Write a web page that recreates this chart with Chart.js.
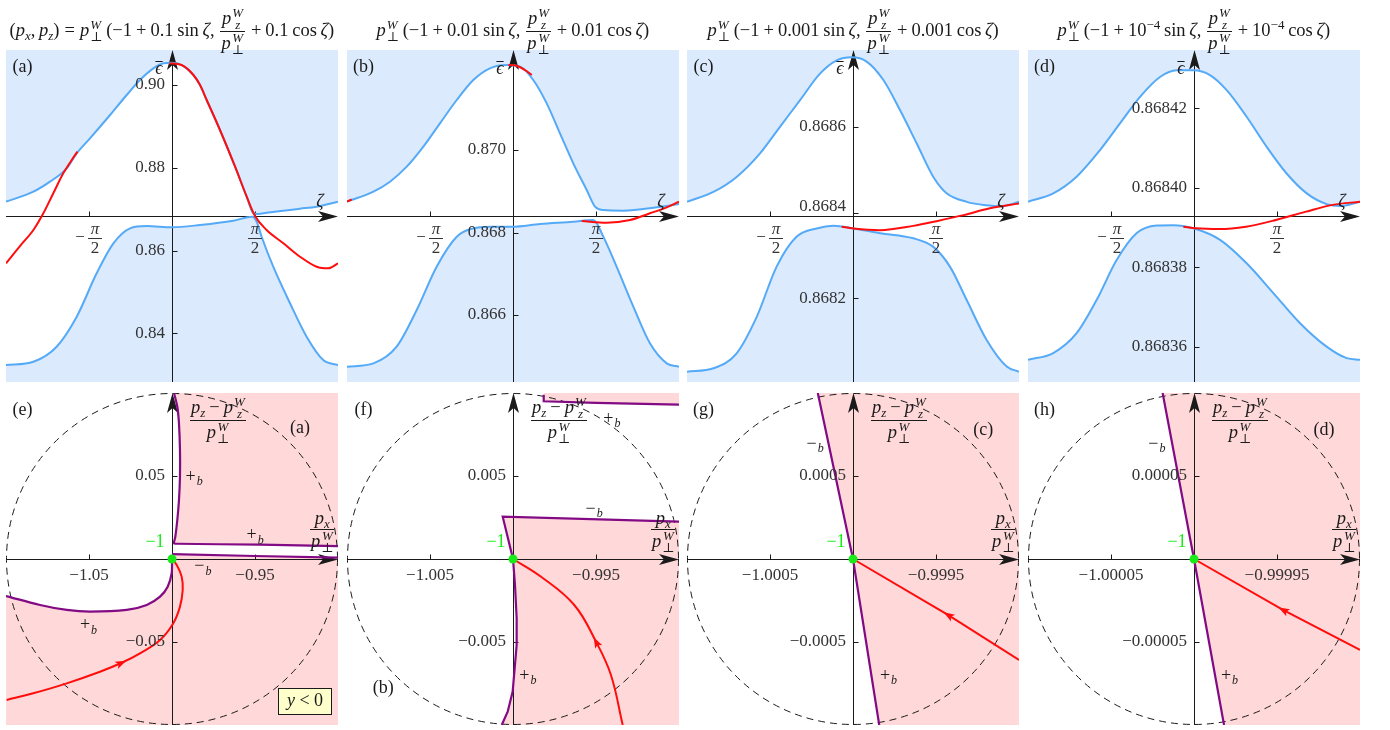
<!DOCTYPE html>
<html>
<head>
<meta charset="utf-8">
<title>Energy bands and momentum trajectories</title>
<script src="https://cdn.jsdelivr.net/npm/chart.js@4.4.2/dist/chart.umd.min.js"></script>
<style>
    body {
        margin: 0;
        width: 1390px;
        height: 730px;
        overflow: hidden;
        position: relative;
        background: #fff;
        color: #1a1a1a;
        font-family: "Liberation Serif", "DejaVu Serif", serif;
    }

    canvas {
        position: absolute;
    }

    .title {
        position: absolute;
        top: 0;
        white-space: nowrap;
        font-size: 18.5px;
    }

    .ss {
        display: inline-flex;
        flex-direction: column;
        font-size: 13px;
        line-height: 12px;
        vertical-align: 6.5px;
        margin-left: 1px;
    }

    sub {
        font-size: 13px;
        vertical-align: -4px;
        line-height: 0;
    }

    sup {
        font-size: 13px;
        vertical-align: 7px;
        line-height: 0;
    }

    .rel {
        margin: 0 5px;
    }

    .bin {
        margin: 0 4px;
    }

    .frac {
        display: inline-block;
        vertical-align: middle;
        text-align: center;
        margin: 0 2px;
        white-space: nowrap;
    }

    .frac>span {
        display: block;
        line-height: 21px;
        padding: 0 1px;
    }

    .frac>span:first-child {
        border-bottom: 1px solid #1a1a1a;
    }

    .abs {
        position: absolute;
        font-size: 18.5px;
    }
</style>
</head>

<body>
    <canvas id="ta" width="332" height="332" style="left:6px;top:50px"></canvas>
    <canvas id="tb" width="332" height="332" style="left:347px;top:50px"></canvas>
    <canvas id="tc" width="332" height="332" style="left:687px;top:50px"></canvas>
    <canvas id="td" width="332" height="332" style="left:1028px;top:50px"></canvas>
    <canvas id="be" width="332" height="332" style="left:6px;top:393px"></canvas>
    <canvas id="bf" width="332" height="332" style="left:347px;top:393px"></canvas>
    <canvas id="bg" width="332" height="332" style="left:687px;top:393px"></canvas>
    <canvas id="bh" width="332" height="332" style="left:1028px;top:393px"></canvas>

    <script>
        // ---------- top row: band energy eps vs zeta (zeta in units of pi) ----------
        const zetaTicks = [-0.5, 0.5];

        const zetaUpperA = [-1, -0.835, -0.735, -0.634, -0.574, -0.494, -0.373, -0.273, -0.193, -0.112, -0.052, 0, 0.058, 0.129, 0.169, 0.209, 0.289, 0.38, 0.45, 0.49, 0.52, 0.57, 0.671, 0.771, 0.871, 1];
        const epsUpperA = [0.87181, 0.87422, 0.87664, 0.87986, 0.88349, 0.88711, 0.89275, 0.89758, 0.90121, 0.90403, 0.90524, 0.90540, 0.90483, 0.90242, 0.90000, 0.89637, 0.88913, 0.88026, 0.87301, 0.86900, 0.86885, 0.86914, 0.86962, 0.87011, 0.87059, 0.87181];
        const zetaLowerA = [-1, -0.835, -0.695, -0.574, -0.454, -0.353, -0.253, -0.153, 0, 0.169, 0.369, 0.484, 0.51, 0.54, 0.61, 0.711, 0.811, 0.911, 1];
        const epsLowerA = [0.83233, 0.83314, 0.83676, 0.84401, 0.85450, 0.86175, 0.86537, 0.86592, 0.86561, 0.86617, 0.86721, 0.86818, 0.86700, 0.86334, 0.85609, 0.84725, 0.83918, 0.83354, 0.83233];
        const zetaRedA1 = [-1, -0.916, -0.835, -0.775, -0.715, -0.655, -0.604, -0.57];
        const epsRedA1 = [0.85691, 0.86109, 0.86496, 0.86899, 0.87383, 0.87866, 0.88188, 0.88389];
        const zetaRedA2 = [-0.016, 0.058, 0.129, 0.169, 0.209, 0.289, 0.38, 0.45, 0.5, 0.57, 0.671, 0.771, 0.871, 0.942, 1];
        const epsRedA2 = [0.90524, 0.90483, 0.90242, 0.90000, 0.89637, 0.88913, 0.88026, 0.87301, 0.86834, 0.86496, 0.86175, 0.85851, 0.85609, 0.85570, 0.85690];
        const epsTicksA = [0.84, 0.86, 0.88, 0.90];

        const zetaUpperB = [-1, -0.841, -0.741, -0.640, -0.540, -0.440, -0.339, -0.239, -0.139, -0.038, 0.042, 0.122, 0.203, 0.283, 0.363, 0.444, 0.494, 0.544, 0.664, 0.866, 1];
        const epsUpperB = [0.868747, 0.868990, 0.869232, 0.869596, 0.870081, 0.870646, 0.871212, 0.871697, 0.871980, 0.872061, 0.872020, 0.871697, 0.871131, 0.870404, 0.869677, 0.869030, 0.868626, 0.868545, 0.868529, 0.868610, 0.868691];
        const zetaLowerB = [-1, -0.841, -0.701, -0.580, -0.460, -0.339, -0.239, -0.139, -0.008, 0.163, 0.363, 0.484, 0.544, 0.624, 0.725, 0.825, 0.926, 1];
        const epsLowerB = [0.864747, 0.864828, 0.865232, 0.866121, 0.867172, 0.867899, 0.868101, 0.868141, 0.868141, 0.868206, 0.868262, 0.868303, 0.867899, 0.867172, 0.866202, 0.865313, 0.864828, 0.864747];
        const zetaRedB1 = [-1, -0.972];
        const epsRedB1 = [0.868747, 0.868800];
        const zetaRedB2 = [-0.028, 0.022, 0.072, 0.113];
        const epsRedB2 = [0.872061, 0.872044, 0.871939, 0.871818];
        const zetaRedB3 = [0.414, 0.564, 0.705, 0.825, 0.926, 1];
        const epsRedB3 = [0.868279, 0.868238, 0.868303, 0.868465, 0.868610, 0.868747];
        const epsTicksB = [0.866, 0.868, 0.870];

        const zetaUpperC = [-1, -0.841, -0.701, -0.560, -0.440, -0.319, -0.199, -0.098, -0.008, 0.082, 0.183, 0.283, 0.384, 0.484, 0.564, 0.685, 0.805, 0.896, 1];
        const epsUpperC = [0.868425, 0.868448, 0.868483, 0.868538, 0.868600, 0.868662, 0.868724, 0.868755, 0.868762, 0.868752, 0.868709, 0.868639, 0.868561, 0.868483, 0.868445, 0.868425, 0.868417, 0.868415, 0.868425];
        const zetaLowerC = [-1, -0.841, -0.701, -0.580, -0.460, -0.339, -0.219, -0.118, 0.002, 0.163, 0.363, 0.484, 0.584, 0.685, 0.805, 0.926, 1];
        const epsLowerC = [0.868029, 0.868037, 0.868072, 0.868157, 0.868274, 0.868344, 0.868363, 0.868369, 0.868363, 0.868352, 0.868340, 0.868320, 0.868274, 0.868196, 0.868103, 0.868041, 0.868029];
        const zetaRedC = [-0.068, 0.002, 0.163, 0.363, 0.504, 0.665, 0.825, 1];
        const epsRedC = [0.868367, 0.868363, 0.868359, 0.868369, 0.868380, 0.868394, 0.868410, 0.868421];
        const epsTicksC = [0.8682, 0.8684, 0.8686];

        const zetaUpperD = [-1, -0.848, -0.707, -0.566, -0.446, -0.325, -0.205, -0.104, -0.004, 0.096, 0.197, 0.317, 0.438, 0.558, 0.679, 0.799, 0.880, 1];
        const epsUpperD = [0.8683965, 0.8683986, 0.8684028, 0.8684095, 0.8684162, 0.8684229, 0.8684279, 0.8684296, 0.8684296, 0.8684284, 0.8684246, 0.8684179, 0.8684103, 0.8684036, 0.8683986, 0.8683959, 0.8683954, 0.8683965];
        const zetaLowerD = [-1, -0.848, -0.707, -0.586, -0.466, -0.345, -0.225, -0.124, -0.004, 0.157, 0.317, 0.478, 0.639, 0.799, 0.920, 1];
        const epsLowerD = [0.8683567, 0.8683584, 0.8683634, 0.8683718, 0.8683818, 0.8683886, 0.8683905, 0.8683906, 0.8683898, 0.8683869, 0.8683810, 0.8683735, 0.8683659, 0.8683600, 0.8683571, 0.8683567];
        const zetaRedD = [-0.064, 0.012, 0.153, 0.313, 0.494, 0.675, 0.835, 1];
        const epsRedD = [0.8683902, 0.8683898, 0.8683896, 0.8683902, 0.8683919, 0.8683940, 0.8683957, 0.8683965];
        const epsTicksD = [0.86836, 0.86838, 0.86840, 0.86842];

        // ---------- bottom row: px/pperp vs (pz - pzW)/pperp ----------
        const dotPx = [-1];
        const dotPz = [0];

        const pxPurpleTopE = [-0.9988, -0.9968, -0.9958, -0.9952, -0.9952, -0.9958, -0.9968, -0.9980, -0.9988, -0.9972, -0.947, -0.9];
        const pzPurpleTopE = [0.1, 0.0917, 0.0817, 0.0657, 0.0496, 0.0355, 0.0235, 0.0134, 0.0094, 0.0092, 0.0086, 0.0078];
        const pxPurpleMidE = [-1, -0.95, -0.9];
        const pzPurpleMidE = [0.0029, 0.0018, 0.0008];
        const pxPurpleLowE = [-1, -1.0002, -1.0026, -1.0072, -1.0152, -1.0273, -1.0494, -1.0634, -1.0795, -1.1];
        const pzPurpleLowE = [0, -0.0086, -0.0167, -0.0227, -0.0277, -0.0307, -0.0317, -0.0307, -0.0277, -0.0223];
        const pxRedE = [-1.0996, -1.0836, -1.0634, -1.0434, -1.0303, -1.0193, -1.0072, -0.9992, -0.9952, -0.99355, -0.99416, -0.99717, -1];
        const pzRedE = [-0.0849, -0.0809, -0.0749, -0.0679, -0.0625, -0.0568, -0.0488, -0.0387, -0.0287, -0.0187, -0.0107, -0.0036, 0];
        const pxTicksE = [-1.05, -0.95];
        const pzTicksE = [0.05, -0.05];

        const pxPurpleTopF = [-0.99815, -0.99815, -0.995, -0.99];
        const pzPurpleTopF = [0.0099, 0.0095, 0.0094, 0.0093];
        const pxPurplePathF = [-0.99, -1.00062, -1, -0.99988, -0.99978, -0.99978, -0.9999, -1.00002, -1.00032, -1.00068];
        const pzPurplePathF = [0.00225, 0.00255, 0, -0.00157, -0.00357, -0.00518, -0.00659, -0.00799, -0.0092, -0.01];
        const pxRedF = [-0.99339, -0.9941, -0.995, -0.99631, -0.99831, -1];
        const pzRedF = [-0.01, -0.00699, -0.00498, -0.00277, -0.00107, 0];
        const pxTicksF = [-1.005, -0.995];
        const pzTicksF = [0.005, -0.005];

        const pxPurpleG = [-0.999842, -1, -1.000212];
        const pzPurpleG = [-0.001, 0, 0.001];
        const pxRedG = [-0.999, -0.999428, -1];
        const pzRedG = [-0.000608, -0.000337, 0];
        const pxTicksG = [-1.0005, -0.9995];
        const pzTicksG = [0.0005, -0.0005];

        const pxPurpleH = [-0.9999819, -1, -1.0000189];
        const pzPurpleH = [-0.0001, 0, 0.0001];
        const pxRedH = [-0.9999, -0.9999464, -1];
        const pzRedH = [-0.0000548, -0.0000307, 0];
        const pxTicksH = [-1.00005, -0.99995];
        const pzTicksH = [0.00005, -0.00005];
    </script>

    <script>
        const BLUE = '#55aaf7', BLUE_FILL = '#dbeafc', RED = '#ff0d0d', PURPLE = '#820a84';
        const PINK = '#ffd8d9', GREEN = '#19ea19', INK = '#1a1a1a', TICK_INK = '#333333';
        const FONT = '"Liberation Serif", "DejaVu Serif", serif';
        const panelCfg = {};

        function pts(xs, ys) {
            return xs.map((x, i) => ({ x: x, y: ys[i] }));
        }

        function series(xs, ys, color, extra) {
            return Object.assign({
                data: pts(xs, ys),
                borderColor: color,
                borderWidth: 2,
                pointRadius: 0,
                fill: false,
                tension: 0.35
            }, extra || {});
        }

        function dot() {
            return {
                data: pts(dotPx, dotPz),
                showLine: false,
                pointRadius: 4.5,
                pointBackgroundColor: GREEN,
                pointBorderWidth: 0
            };
        }

        function fmt(v, d) {
            return v.toFixed(d).replace('-', '\u2212');
        }

        // stealth style arrow head
        function stealth(ctx, tx, ty, dx, dy, len, half, notch) {
            const nx = -dy, ny = dx;
            ctx.beginPath();
            ctx.moveTo(tx, ty);
            ctx.lineTo(tx - dx * len + nx * half, ty - dy * len + ny * half);
            ctx.lineTo(tx - dx * (len - notch), ty - dy * (len - notch));
            ctx.lineTo(tx - dx * len - nx * half, ty - dy * len - ny * half);
            ctx.closePath();
            ctx.fill();
        }

        function drawPiFrac(ctx, px, ay, neg) {
            const fx = neg ? px + 6 : px;
            ctx.fillStyle = TICK_INK;
            ctx.textAlign = 'center';
            ctx.textBaseline = 'middle';
            ctx.font = 'italic 17px ' + FONT;
            ctx.fillText('π', fx, ay + 14);
            ctx.font = '17px ' + FONT;
            ctx.fillText('2', fx, ay + 33);
            ctx.fillRect(fx - 7, ay + 22, 14, 1);
            if (neg) ctx.fillText('\u2212', fx - 15, ay + 22);
        }

        function drawNote(ctx, n) {
            ctx.textAlign = 'center';
            ctx.textBaseline = 'middle';
            if (n.box) {
                ctx.fillStyle = '#ffffcc';
                ctx.fillRect(n.x, n.y, n.w, n.h);
                ctx.strokeStyle = INK;
                ctx.lineWidth = 1;
                ctx.strokeRect(n.x + 0.5, n.y + 0.5, n.w - 1, n.h - 1);
                ctx.fillStyle = INK;
                ctx.font = 'italic 18px ' + FONT;
                const w1 = ctx.measureText('y').width;
                ctx.font = '18px ' + FONT;
                const w2 = ctx.measureText(' < 0').width;
                const x0 = n.x + n.w / 2 - (w1 + w2) / 2, yc = n.y + n.h / 2;
                ctx.textAlign = 'left';
                ctx.font = 'italic 18px ' + FONT;
                ctx.fillText('y', x0, yc);
                ctx.font = '18px ' + FONT;
                ctx.fillText(' < 0', x0 + w1, yc);
                return;
            }
            ctx.font = (n.italic ? 'italic ' : '') + '18px ' + FONT;
            ctx.fillStyle = n.color || INK;
            ctx.fillText(n.t, n.x, n.y);
            const w = ctx.measureText(n.t).width;
            if (n.bar) ctx.fillRect(n.x - w / 2, n.y - 8, w, 1);
            if (n.sub) {
                ctx.font = 'italic 12px ' + FONT;
                ctx.textAlign = 'left';
                ctx.fillText(n.sub, n.x + w / 2 + 1, n.y + 5);
            }
        }

        const axesPlugin = {
            id: 'axes',
            beforeDatasetsDraw(chart) {
                const o = panelCfg[chart.canvas.id];
                const ctx = chart.ctx, a = chart.chartArea;
                const sx = chart.scales.x, sy = chart.scales.y;
                const ax = Math.round(sx.getPixelForValue(o.axisX)) + 0.5;
                const ay = Math.round(sy.getPixelForValue(o.axisY)) + 0.5;
                ctx.save();
                if (o.radius) {
                    const cx = sx.getPixelForValue(o.axisX), cy = sy.getPixelForValue(o.axisY);
                    const rx = Math.abs(sx.getPixelForValue(o.axisX + o.radius) - cx);
                    const ry = Math.abs(sy.getPixelForValue(o.axisY + o.radius) - cy);
                    ctx.strokeStyle = INK;
                    ctx.lineWidth = 1;
                    ctx.setLineDash([7, 5]);
                    ctx.beginPath();
                    ctx.ellipse(cx, cy, rx - 0.5, ry - 0.5, 0, 0, 2 * Math.PI);
                    ctx.stroke();
                    ctx.setLineDash([]);
                }
                ctx.strokeStyle = INK;
                ctx.lineWidth = 1;
                ctx.beginPath();
                ctx.moveTo(a.left, ay);
                ctx.lineTo(a.right - 10, ay);
                ctx.moveTo(ax, a.bottom);
                ctx.lineTo(ax, a.top + 10);
                o.xTicks.forEach(v => {
                    const p = Math.round(sx.getPixelForValue(v)) + 0.5;
                    ctx.moveTo(p, ay);
                    ctx.lineTo(p, ay - 5);
                });
                o.yTicks.forEach(v => {
                    const p = Math.round(sy.getPixelForValue(v)) + 0.5;
                    ctx.moveTo(ax, p);
                    ctx.lineTo(ax + 5, p);
                });
                ctx.stroke();
                ctx.fillStyle = INK;
                stealth(ctx, a.right, ay, 1, 0, 20, 5.5, 5);
                stealth(ctx, ax, a.top, 0, -1, 20, 5.5, 5);
                ctx.restore();
            },
            afterDatasetsDraw(chart) {
                const o = panelCfg[chart.canvas.id];
                const ctx = chart.ctx;
                const sx = chart.scales.x, sy = chart.scales.y;
                const ax = sx.getPixelForValue(o.axisX), ay = sy.getPixelForValue(o.axisY);
                ctx.save();
                ctx.fillStyle = TICK_INK;
                ctx.font = '17px ' + FONT;
                ctx.textBaseline = 'middle';
                ctx.textAlign = 'right';
                o.yTicks.forEach((v, i) => {
                    const dy = o.yLabelDy ? o.yLabelDy[i] : 0;
                    ctx.fillText(o.yLabels[i], ax - 7, sy.getPixelForValue(v) + dy);
                });
                if (o.piTicks) {
                    o.xTicks.forEach(v => drawPiFrac(ctx, sx.getPixelForValue(v), ay, v < 0));
                } else {
                    ctx.textAlign = 'center';
                    o.xTicks.forEach((v, i) => ctx.fillText(o.xLabels[i], sx.getPixelForValue(v), ay + 17));
                }
                (o.arrows || []).forEach(ar => {
                    const p = k => ({ x: sx.getPixelForValue(ar.xs[k]), y: sy.getPixelForValue(ar.ys[k]) });
                    const p0 = p(ar.i - 1), p1 = p(ar.i), p2 = p(ar.i + 1);
                    let dx = p2.x - p0.x, dy = p2.y - p0.y;
                    const len = Math.hypot(dx, dy);
                    dx /= len;
                    dy /= len;
                    ctx.fillStyle = RED;
                    stealth(ctx, p1.x + dx * 5, p1.y + dy * 5, dx, dy, 11, 4, 2.5);
                });
                o.notes.forEach(n => drawNote(ctx, n));
                ctx.restore();
            }
        };

        function makeChart(id, datasets, xr, yr) {
            return new Chart(document.getElementById(id), {
                type: 'line',
                data: { datasets: datasets },
                options: {
                    responsive: false,
                    animation: false,
                    events: [],
                    layout: { padding: 0, autoPadding: false },
                    scales: {
                        x: { type: 'linear', min: xr[0], max: xr[1], display: false },
                        y: { type: 'linear', min: yr[0], max: yr[1], display: false }
                    },
                    plugins: {
                        legend: { display: false },
                        tooltip: { enabled: false },
                        filler: { drawTime: 'beforeDatasetsDraw' }
                    }
                },
                plugins: [axesPlugin]
            });
        }

        // ---------- top row ----------
        const topPanels = [
            { id: 'ta', tag: '(a)', eps: [0.82823, 0.90846], cross: 0.86834, ticks: epsTicksA, digits: 2,
              upper: [zetaUpperA, epsUpperA], lower: [zetaLowerA, epsLowerA],
              reds: [[zetaRedA1, epsRedA1], [zetaRedA2, epsRedA2]] },
            { id: 'tb', tag: '(b)', eps: [0.864376, 0.872424], cross: 0.8684, ticks: epsTicksB, digits: 3,
              upper: [zetaUpperB, epsUpperB], lower: [zetaLowerB, epsLowerB],
              reds: [[zetaRedB1, epsRedB1], [zetaRedB2, epsRedB2], [zetaRedB3, epsRedB3]] },
            { id: 'tc', tag: '(c)', eps: [0.868005, 0.868779], cross: 0.868392, ticks: epsTicksC, digits: 4,
              labelDy: [0, -6, 0],
              upper: [zetaUpperC, epsUpperC], lower: [zetaLowerC, epsLowerC],
              reds: [[zetaRedC, epsRedC]] },
            { id: 'td', tag: '(d)', eps: [0.8683511, 0.8684347], cross: 0.8683929, ticks: epsTicksD, digits: 5,
              upper: [zetaUpperD, epsUpperD], lower: [zetaLowerD, epsLowerD],
              reds: [[zetaRedD, epsRedD]] }
        ];

        topPanels.forEach(p => {
            panelCfg[p.id] = {
                axisX: 0, axisY: p.cross, xTicks: zetaTicks, piTicks: true,
                yTicks: p.ticks, yLabels: p.ticks.map(v => fmt(v, p.digits)), yLabelDy: p.labelDy,
                notes: [
                    { t: p.tag, x: 16.5, y: 17.5 },
                    { t: 'ϵ', italic: true, bar: true, x: 153, y: 19 },
                    { t: 'ζ', italic: true, x: 314, y: 152 }
                ]
            };
            const ds = p.reds.map(r => series(r[0], r[1], RED, { cubicInterpolationMode: 'monotone' }));
            ds.push(series(p.upper[0], p.upper[1], BLUE, { fill: 'end', backgroundColor: BLUE_FILL, cubicInterpolationMode: 'monotone' }));
            ds.push(series(p.lower[0], p.lower[1], BLUE, { fill: 'start', backgroundColor: BLUE_FILL, cubicInterpolationMode: 'monotone' }));
            makeChart(p.id, ds, [-1, 1], p.eps);
        });

        // ---------- bottom row ----------
        function bottomCfg(r, pxT, pzT, digits, notes, arrow) {
            return {
                axisX: -1, axisY: 0, radius: r,
                xTicks: pxT, xLabels: pxT.map(v => fmt(v, digits)),
                yTicks: pzT, yLabels: pzT.map(v => fmt(v, digits)),
                notes: notes.concat([{ t: '\u22121', x: 149, y: 149, color: GREEN }]),
                arrows: [arrow]
            };
        }

        panelCfg.be = bottomCfg(0.1, pxTicksE, pzTicksE, 2, [
            { t: '(e)', x: 16.5, y: 17 }, { t: '(a)', x: 294, y: 35.5 },
            { t: '+', sub: 'b', x: 184.7, y: 84.3 }, { t: '+', sub: 'b', x: 245.7, y: 142.7 },
            { t: '\u2212', sub: 'b', x: 193.3, y: 173.7 }, { t: '+', sub: 'b', x: 79, y: 232.7 },
            { box: true, x: 272, y: 295, w: 54, h: 27 }
        ], { xs: pxRedE, ys: pzRedE, i: 4 });
        makeChart('be', [
            dot(),
            series(pxRedE, pzRedE, RED, { tension: 0.4 }),
            series(pxPurpleTopE, pzPurpleTopE, PURPLE, { borderWidth: 2.2, fill: 'end', backgroundColor: PINK, tension: 0.3 }),
            series(pxPurpleMidE, pzPurpleMidE, PURPLE, { borderWidth: 2.2, fill: 'start', backgroundColor: PINK, tension: 0 }),
            series(pxPurpleLowE, pzPurpleLowE, PURPLE, { borderWidth: 2.2, fill: 'start', backgroundColor: PINK, tension: 0.35 })
        ], [-1.1, -0.9], [-0.1, 0.1]);

        panelCfg.bf = bottomCfg(0.01, pxTicksF, pzTicksF, 3, [
            { t: '(f)', x: 16.5, y: 17 }, { t: '(b)', x: 36.3, y: 295.3 },
            { t: '+', sub: 'b', x: 261.3, y: 26 }, { t: '\u2212', sub: 'b', x: 243.7, y: 116 },
            { t: '+', sub: 'b', x: 177.3, y: 283 }
        ], { xs: pxRedF, ys: pzRedF, i: 2 });
        makeChart('bf', [
            dot(),
            series(pxRedF, pzRedF, RED, { tension: 0.4 }),
            series(pxPurpleTopF, pzPurpleTopF, PURPLE, { borderWidth: 2.2, fill: 'end', backgroundColor: PINK, tension: 0 }),
            series(pxPurplePathF, pzPurplePathF, PURPLE, { borderWidth: 2.2, fill: 'start', backgroundColor: PINK, tension: 0 })
        ], [-1.01, -0.99], [-0.01, 0.01]);

        panelCfg.bg = bottomCfg(0.001, pxTicksG, pzTicksG, 4, [
            { t: '(g)', x: 16.5, y: 17 }, { t: '(c)', x: 296.3, y: 37.7 },
            { t: '\u2212', sub: 'b', x: 124.7, y: 51 }, { t: '+', sub: 'b', x: 198, y: 283 }
        ], { xs: pxRedG, ys: pzRedG, i: 1 });
        makeChart('bg', [
            dot(),
            series(pxRedG, pzRedG, RED, { tension: 0 }),
            series(pxPurpleG, pzPurpleG, PURPLE, { borderWidth: 2.2, indexAxis: 'y', fill: { value: -0.999 }, backgroundColor: PINK, tension: 0 })
        ], [-1.001, -0.999], [-0.001, 0.001]);

        panelCfg.bh = bottomCfg(0.0001, pxTicksH, pzTicksH, 5, [
            { t: '(h)', x: 16.5, y: 17 }, { t: '(d)', x: 296, y: 37.7 },
            { t: '\u2212', sub: 'b', x: 125.3, y: 51 }, { t: '+', sub: 'b', x: 198, y: 283 }
        ], { xs: pxRedH, ys: pzRedH, i: 1 });
        makeChart('bh', [
            dot(),
            series(pxRedH, pzRedH, RED, { tension: 0 }),
            series(pxPurpleH, pzPurpleH, PURPLE, { borderWidth: 2.2, indexAxis: 'y', fill: { value: -0.9999 }, backgroundColor: PINK, tension: 0 })
        ], [-1.0001, -0.9999], [-0.0001, 0.0001]);

        // ---------- math labels (titles and axis names) ----------
        const panelLeft = [6, 347, 687, 1028];
        const pPerpW = '<i>p</i><span class="ss"><i>W</i><span>⊥</span></span>';
        const pzW = '<i>p</i><span class="ss"><i>W</i><i>z</i></span>';
        const fracW = '<span class="frac"><span>' + pzW + '</span><span>' + pPerpW + '</span></span>';
        const plus = '<span class="bin">+</span>';

        function titleHtml(prefix, coef) {
            return prefix + pPerpW + '\u2009(\u22121' + plus + coef + '\u2009sin\u2009<i>ζ</i>,\u2009' + fracW + plus + coef + '\u2009cos\u2009<i>ζ</i>)';
        }

        const titles = [
            titleHtml('(<i>p</i><sub><i>x</i></sub>,\u2009<i>p</i><sub><i>z</i></sub>)<span class="rel">=</span>', '0.1'),
            titleHtml('', '0.01'),
            titleHtml('', '0.001'),
            titleHtml('', '10<sup>\u22124</sup>')
        ];

        function barOffset(el) {
            const num = el.querySelector('.frac > span');
            return num.getBoundingClientRect().bottom - el.getBoundingClientRect().top;
        }

        titles.forEach((html, i) => {
            const el = document.createElement('div');
            el.className = 'title';
            el.innerHTML = html;
            document.body.appendChild(el);
            el.style.left = (panelLeft[i] + 166 - el.offsetWidth / 2) + 'px';
            el.style.top = (31 - barOffset(el) + 1) + 'px';
        });

        function placeFrac(num, den, cx, barY) {
            const el = document.createElement('span');
            el.className = 'frac abs';
            el.innerHTML = '<span>' + num + '</span><span>' + den + '</span>';
            document.body.appendChild(el);
            el.style.left = (cx - el.offsetWidth / 2) + 'px';
            el.style.top = (barY - barOffset(el) + 1) + 'px';
        }

        panelLeft.forEach(left => {
            placeFrac('<i>p</i><sub><i>z</i></sub><span class="bin">\u2212</span>' + pzW, pPerpW, left + 210, 420);
            placeFrac('<i>p</i><sub><i>x</i></sub>', pPerpW, left + 314, 529);
        });
    </script>
</body>

</html>
